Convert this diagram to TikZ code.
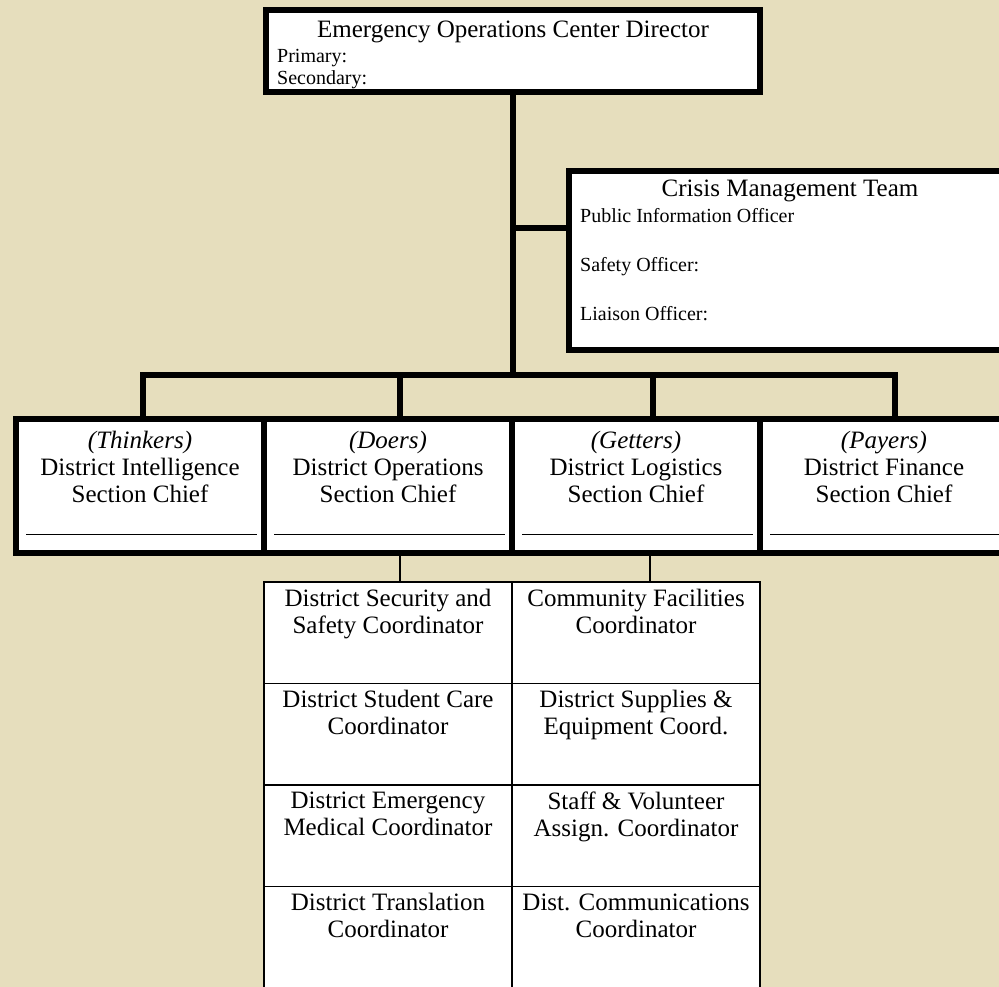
\documentclass[tikz,border=0pt]{standalone}
\usepackage{fontspec}
\setmainfont{Liberation Serif}
\usepackage{tikz}
\usetikzlibrary{positioning}
\definecolor{parchment}{HTML}{E6DEBD}
\newcommand{\bigtxt}{\fontsize{25}{27}\selectfont}
\newcommand{\smalltxt}{\fontsize{20}{23}\selectfont}

\begin{document}
\begin{tikzpicture}[x=1pt,y=-1pt,
  heavybox/.style={draw,line width=6pt,fill=white,inner sep=0pt},
  cellbox/.style={draw,line width=1.5pt,fill=white,inner sep=0pt,minimum width=248pt,minimum height=101.5pt},
  trunk/.style={line width=6pt},
  link/.style={line width=1.2pt},
  celltext/.style={font=\bigtxt,align=center,inner sep=0pt},
  linetext/.style={font=\smalltxt,anchor=base west,inner sep=0pt}]
  % page and background
  \useasboundingbox (0,0) rectangle (999,987);
  \clip (0,0) rectangle (999,987);
  \fill[parchment] (0,0) rectangle (999,987);
  % Director box
  \node[heavybox,minimum width=494pt,minimum height=82pt] (eocd) at (513,51) {};
  \node[font=\bigtxt,anchor=base,inner sep=0pt] (eocdtitle) at (513,38) {Emergency Operations Center Director};
  \node[linetext] (eocdpri) at (277,63) {Primary:};
  \node[linetext] (eocdsec) at (277,85) {Secondary:};
  % Crisis management team (runs off the right edge)
  \node[heavybox,minimum width=442pt,minimum height=179pt] (cmt) at (790,260.5) {};
  \node[font=\bigtxt,anchor=base,inner sep=0pt] (cmttitle) at (790,197) {Crisis Management Team};
  \node[linetext] (cmtpio) at (580,223) {Public Information Officer};
  \node[linetext] (cmtsafe) at (580,272) {Safety Officer:};
  \node[linetext] (cmtliaison) at (580,320) {Liaison Officer:};
  % Four section chiefs
  \foreach \i/\cx/\dx/\role/\dept in {1/140/143/Thinkers/Intelligence, 2/388/400/Doers/Operations,
      3/636/653/Getters/Logistics, 4/884/895/Payers/Finance}{
    \node[heavybox,minimum width=248pt,minimum height=134pt] (sec\i) at (\cx,486) {};
    \node[celltext,below=14.5pt of sec\i.north] (sectxt\i) {\textit{(\role)}\\District \dept\\Section Chief};
    \draw[line width=1pt] ([xshift=13pt,yshift=22pt]sec\i.south west) -- ([xshift=-10pt,yshift=22pt]sec\i.south east);
    \coordinate (drop\i) at (\dx,375);
  }
  % Trunk, bus and drops
  \coordinate (cmttap) at (513,228);
  \draw[trunk] (eocd.south) -- (eocd.south |- drop1);
  \draw[trunk] (eocd.south |- cmttap) -- (cmttap -| cmt.west);
  \draw[trunk] (sec1.north -| drop1) -- (drop1) -- (drop4) -- (sec4.north -| drop4);
  \draw[trunk] (drop2) -- (sec2.north -| drop2);
  \draw[trunk] (drop3) -- (sec3.north -| drop3);
  % Coordinators under operations and logistics
  \foreach \r/\cy/\lefttxt/\righttxt in {
      1/632.75/{District Security and\\Safety Coordinator}/{Community Facilities\\Coordinator},
      2/734.25/{District Student Care\\Coordinator}/{District Supplies \&\\Equipment Coord.},
      3/835.75/{District Emergency\\Medical Coordinator}/{Staff \& Volunteer\\Assign. Coordinator},
      4/937.25/{District Translation\\Coordinator}/{Dist. Communications\\Coordinator}}{
    \node[cellbox] (ops\r) at (388,\cy) {};
    \node[celltext,below=7.5pt of ops\r.north] (opstxt\r) {\lefttxt};
    \node[cellbox] (log\r) at (636,\cy) {};
    \node[celltext,below=7.5pt of log\r.north] (logtxt\r) {\righttxt};
  }
  \draw[link] ([xshift=12pt]sec2.south) -- ([xshift=12pt]sec2.south |- ops1.north);
  \draw[link] ([xshift=14pt]sec3.south) -- ([xshift=14pt]sec3.south |- log1.north);
\end{tikzpicture}
\end{document}
